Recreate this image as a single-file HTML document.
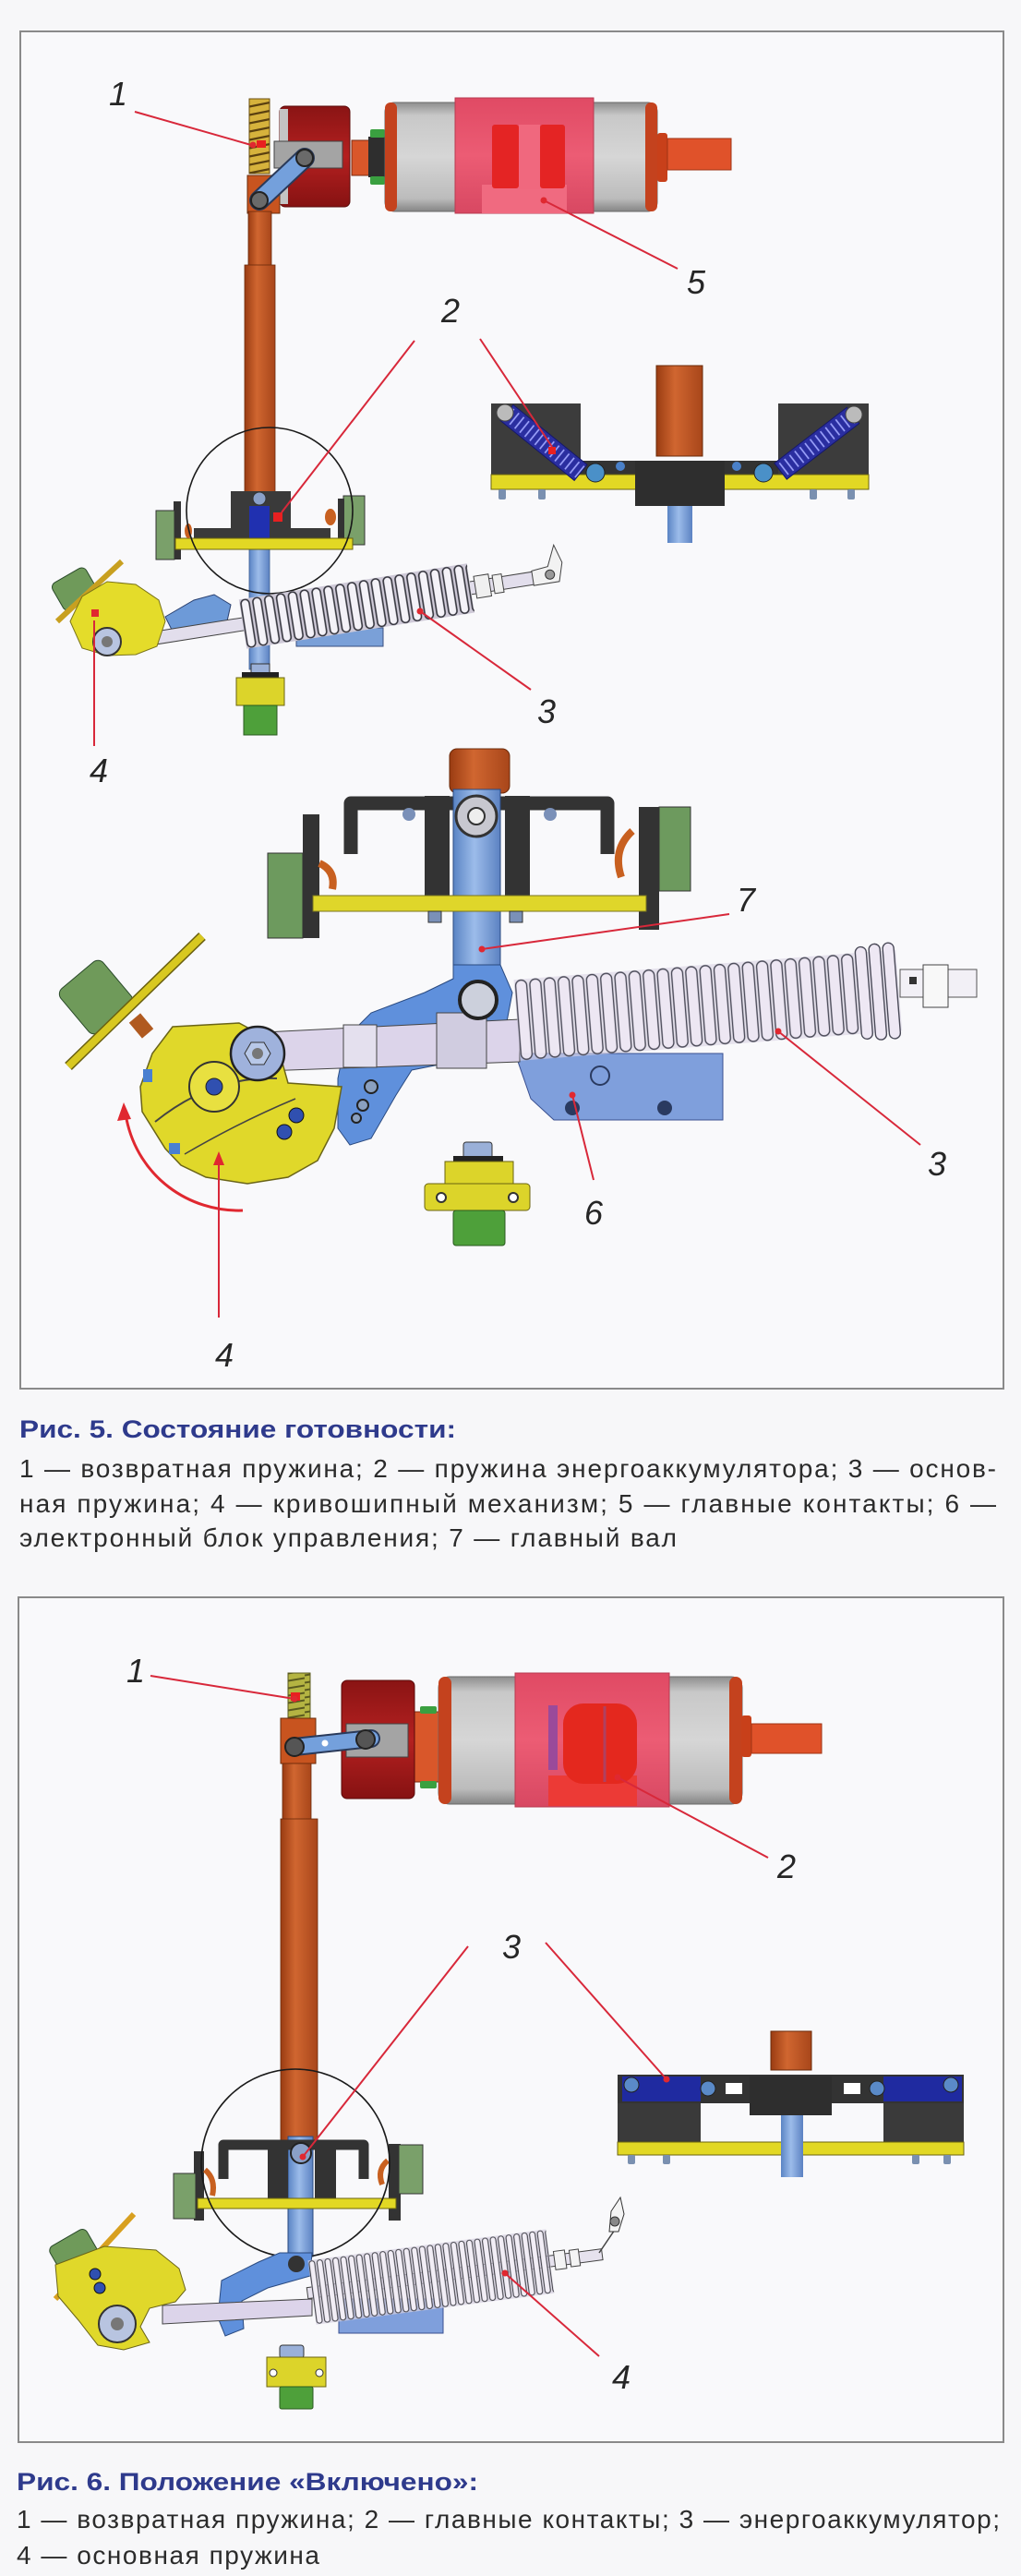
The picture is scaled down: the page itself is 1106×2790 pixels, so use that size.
<!DOCTYPE html>
<html><head><meta charset="utf-8"><style>
html,body{margin:0;padding:0;background:#f7f7f9;}
svg{display:block;}
.lb{font-family:"Liberation Sans","DejaVu Sans",sans-serif;font-style:italic;font-size:36px;fill:#262626;text-anchor:middle;}
.ti{font-family:"Liberation Sans","DejaVu Sans",sans-serif;font-weight:bold;font-size:27px;fill:#2e3a8c;}
.tx{font-family:"Liberation Sans","DejaVu Sans",sans-serif;font-size:28px;fill:#2b2b2b;}
.ld{stroke:#d8283a;stroke-width:2;fill:none;}
.mk{fill:#e02830;}
</style></head><body>
<svg width="1106" height="2790" viewBox="0 0 1106 2790" xmlns="http://www.w3.org/2000/svg">
<defs>
<linearGradient id="rodG" x1="0" x2="1" y1="0" y2="0"><stop offset="0" stop-color="#9a3c12"/><stop offset=".4" stop-color="#d06630"/><stop offset="1" stop-color="#a8461a"/></linearGradient>
<linearGradient id="cylG" x1="0" x2="0" y1="0" y2="1"><stop offset="0" stop-color="#8e8e8e"/><stop offset=".12" stop-color="#c8c8c8"/><stop offset=".5" stop-color="#d6d6d6"/><stop offset=".88" stop-color="#bcbcbc"/><stop offset="1" stop-color="#858585"/></linearGradient>
<linearGradient id="pinkG" x1="0" x2="0" y1="0" y2="1"><stop offset="0" stop-color="#e04a64"/><stop offset=".5" stop-color="#ec5c74"/><stop offset="1" stop-color="#d84862"/></linearGradient>
<linearGradient id="capG" x1="0" x2="0" y1="0" y2="1"><stop offset="0" stop-color="#8a1414"/><stop offset=".5" stop-color="#b42020"/><stop offset="1" stop-color="#861212"/></linearGradient>
<linearGradient id="shaftG" x1="0" x2="1" y1="0" y2="0"><stop offset="0" stop-color="#5a84c4"/><stop offset=".45" stop-color="#9cbcea"/><stop offset="1" stop-color="#5c82c2"/></linearGradient>
<pattern id="coilA" patternUnits="userSpaceOnUse" x="0" y="-27" width="13" height="54"><rect x="1.5" y="1" width="9" height="52" rx="4.5" fill="#f4f2f8" stroke="#33333c" stroke-width="1.6"/></pattern>
<pattern id="coilB" patternUnits="userSpaceOnUse" x="0" y="-44" width="15.4" height="88"><rect x="1.5" y="1" width="12" height="86" rx="6" fill="#eee8f4" fill-opacity=".92" stroke="#4a4a58" stroke-width="1.4"/></pattern>
<pattern id="coilC" patternUnits="userSpaceOnUse" x="0" y="-35" width="8.6" height="70"><rect x="1" y="1" width="6" height="68" rx="3" fill="#f2eef6" stroke="#44444c" stroke-width="1.1"/></pattern>
<pattern id="goldCoil" patternUnits="userSpaceOnUse" x="0" y="0" width="30" height="9"><rect x="0" y="0" width="30" height="9" fill="#d6b23c"/><path d="M0,7.5 L30,1.5" stroke="#5a4010" stroke-width="2.2"/></pattern>
<pattern id="oliveCoil" patternUnits="userSpaceOnUse" x="0" y="0" width="30" height="8"><rect x="0" y="0" width="30" height="8" fill="#b4b442"/><path d="M0,6.5 L30,1.5" stroke="#5a5a20" stroke-width="2"/></pattern>
<pattern id="navyCoil" patternUnits="userSpaceOnUse" x="0" y="-11" width="7" height="22"><rect x="0" y="0" width="7" height="22" fill="#2a2ea0"/><line x1="3.5" y1="3" x2="3.5" y2="19" stroke="#a0a6ff" stroke-width="1.6"/></pattern>
</defs>

<!-- ================= FIGURE 5 ================= -->
<rect x="22" y="34" width="1065" height="1470" fill="#f9f9fb" stroke="#8a8a8a" stroke-width="2"/>

<!-- interrupter -->
<rect x="381" y="152" width="20" height="38" fill="#d9572a" stroke="#7a2a10"/>
<rect x="399" y="148" width="20" height="44" fill="#2e2e2e"/>
<rect x="401" y="140" width="16" height="9" rx="2" fill="#3aa040"/>
<rect x="401" y="191" width="16" height="9" rx="2" fill="#3aa040"/>
<rect x="417" y="111" width="295" height="118" rx="10" fill="url(#cylG)" stroke="#6a6a6a"/>
<rect x="417" y="111" width="13" height="118" rx="6" fill="#c4421e"/>
<rect x="699" y="111" width="13" height="118" rx="6" fill="#c4421e"/>
<rect x="493" y="106" width="150" height="125" fill="url(#pinkG)" stroke="#b83a50"/>
<rect x="522" y="200" width="92" height="31" fill="#f06a80"/>
<rect x="562" y="135" width="23" height="70" fill="#f0687e"/>
<rect x="533" y="135" width="29" height="69" rx="3" fill="#e42424"/>
<rect x="585" y="135" width="27" height="69" rx="3" fill="#e42424"/>
<rect x="712" y="144" width="11" height="53" rx="3" fill="#c8401a"/>
<rect x="723" y="150" width="69" height="34" fill="#e0522a" stroke="#a03414"/>

<!-- cap, spring, link, rod -->
<rect x="303" y="115" width="76" height="109" rx="6" fill="url(#capG)" stroke="#5a0a0a"/>
<rect x="303" y="118" width="9" height="103" fill="#c4c4c4"/>
<rect x="297" y="153" width="74" height="29" fill="#a4a4a4" stroke="#444"/>
<rect x="270" y="107" width="22" height="81" fill="url(#goldCoil)" stroke="#6a5010"/>
<rect x="278" y="152" width="10" height="8" fill="#e82020"/>
<rect x="268" y="190" width="35" height="41" fill="#c8541f" stroke="#6a2a0a"/>
<line x1="281" y1="217" x2="330" y2="171" stroke="#2a3a5a" stroke-width="22" stroke-linecap="round"/>
<line x1="281" y1="217" x2="330" y2="171" stroke="#74a0dc" stroke-width="18" stroke-linecap="round"/>
<circle cx="330" cy="171" r="9" fill="#6a6a6a" stroke="#222" stroke-width="2"/>
<circle cx="281" cy="217" r="9" fill="#6a6a6a" stroke="#222" stroke-width="2"/>
<rect x="269" y="229" width="25" height="60" fill="url(#rodG)" stroke="#6a2a0a" stroke-width=".8"/>
<rect x="265" y="287" width="33" height="253" fill="url(#rodG)" stroke="#6a2a0a" stroke-width=".8"/>

<!-- circle mechanism -->
<rect x="270" y="590" width="22" height="135" fill="url(#shaftG)" stroke="#3a5a90" stroke-width=".8"/>
<rect x="188" y="543" width="8" height="63" fill="#333"/>
<rect x="169" y="553" width="20" height="53" fill="#7aa06a" stroke="#333"/>
<rect x="372" y="537" width="23" height="53" fill="#7aa06a" stroke="#333"/>
<rect x="366" y="540" width="7" height="52" fill="#333"/>
<path d="M210,583 L210,572 L250,572 L250,532 L315,532 L315,572 L358,572 L358,583 Z" fill="#3a3a3a"/>
<rect x="270" y="548" width="22" height="38" fill="#2030b0"/>
<circle cx="281" cy="540" r="7" fill="#8aa0c8" stroke="#333"/>
<rect x="296" y="555" width="10" height="10" fill="#e82020"/>
<rect x="190" y="583" width="192" height="12" fill="#e2d824" stroke="#6a6410"/>
<ellipse cx="358" cy="560" rx="6" ry="9" fill="#c86020"/>
<ellipse cx="204" cy="575" rx="4" ry="8" fill="#c86020"/>
<circle cx="292" cy="553" r="90" fill="none" stroke="#1a1a1a" stroke-width="1.6"/>

<!-- bottom component -->
<rect x="272" y="719" width="20" height="12" fill="#9ab0d8" stroke="#333"/>
<rect x="262" y="728" width="40" height="7" fill="#222"/>
<rect x="256" y="734" width="52" height="30" fill="#dcd42a" stroke="#6a6410"/>
<rect x="264" y="764" width="36" height="32" fill="#4ea03a" stroke="#2a5a20"/>

<!-- lever + spring -->
<polygon points="179,668 210,650 232,644 250,655 243,686 210,691 188,686" fill="#6d9ad8" stroke="#2a4070"/>
<rect x="321" y="680" width="94" height="20" fill="#7aa0d8" stroke="#3a5080"/>
<g transform="translate(263,676) rotate(-9)">
 <rect x="-118" y="-7" width="455" height="14" fill="#e2deec" stroke="#444"/>
 <rect x="0" y="-27" width="250" height="54" fill="#cfcad8"/>
 <rect x="0" y="-27" width="250" height="54" fill="url(#coilA)"/>
 <rect x="255" y="-12" width="16" height="24" fill="#f0f0f0" stroke="#444"/>
 <rect x="275" y="-10" width="10" height="20" fill="#f0f0f0" stroke="#444"/>
 <path d="M318,-8 L336,-10 L346,-32 L352,-12 L346,8 L318,8 Z" fill="#f2f2f2" stroke="#444"/>
 <circle cx="337" cy="-1" r="5" fill="#999" stroke="#333"/>
</g>

<!-- crank -->
<rect x="60" y="621" width="42" height="34" rx="6" fill="#6f9a5a" stroke="#2a4a2a" transform="rotate(-30 81 638)"/>
<line x1="132" y1="608" x2="62" y2="673" stroke="#c8a020" stroke-width="6"/>
<polygon points="76,673 89,646 116,630 147,633 172,650 179,673 170,700 147,709 116,710 89,702" fill="#e4dc2a" stroke="#7a7418"/>
<circle cx="116" cy="695" r="15" fill="#b8c4e0" stroke="#333" stroke-width="2"/>
<circle cx="116" cy="695" r="6" fill="#777"/>

<!-- right inset -->
<rect x="711" y="396" width="50" height="98" fill="url(#rodG)" stroke="#6a2a0a"/>
<rect x="532" y="437" width="97" height="82" fill="#3c3c3c"/>
<rect x="843" y="437" width="98" height="82" fill="#3c3c3c"/>
<rect x="629" y="499" width="214" height="16" fill="#333"/>
<rect x="532" y="514" width="409" height="16" fill="#e2d824" stroke="#6a6410"/>
<rect x="688" y="499" width="97" height="49" fill="#2e2e2e"/>
<rect x="540" y="530" width="8" height="11" rx="2" fill="#7a90b0"/>
<rect x="583" y="530" width="8" height="11" rx="2" fill="#7a90b0"/>
<rect x="877" y="530" width="8" height="11" rx="2" fill="#7a90b0"/>
<rect x="918" y="530" width="8" height="11" rx="2" fill="#7a90b0"/>
<rect x="723" y="548" width="27" height="40" fill="url(#shaftG)"/>
<g transform="translate(549,447) rotate(39)"><rect x="0" y="-11" width="103" height="22" fill="url(#navyCoil)" stroke="#15186a"/></g>
<g transform="translate(924,450) rotate(142.4)"><rect x="0" y="-11" width="99" height="22" fill="url(#navyCoil)" stroke="#15186a"/></g>
<circle cx="547" cy="447" r="9" fill="#bbb" stroke="#444"/>
<circle cx="925" cy="449" r="9" fill="#bbb" stroke="#444"/>
<rect x="594" y="484" width="8" height="8" fill="#e82020"/>
<circle cx="645" cy="512" r="10" fill="#4a90c8" stroke="#222"/>
<circle cx="827" cy="512" r="10" fill="#4a90c8" stroke="#222"/>
<circle cx="672" cy="505" r="5" fill="#4a80c8"/>
<circle cx="798" cy="505" r="5" fill="#4a80c8"/>

<!-- lower fig5 mechanism -->
<rect x="487" y="811" width="65" height="48" rx="8" fill="url(#rodG)" stroke="#6a2a0a"/>
<path d="M380,925 L380,870 L658,870 L658,925" fill="none" stroke="#333" stroke-width="15" stroke-linejoin="round"/>
<rect x="460" y="862" width="27" height="119" fill="#333"/>
<rect x="547" y="862" width="27" height="119" fill="#333"/>
<rect x="491" y="855" width="51" height="200" fill="url(#shaftG)" stroke="#2a4a80"/>
<circle cx="516" cy="884" r="22" fill="#c8c8d0" stroke="#333" stroke-width="3"/>
<circle cx="516" cy="884" r="9" fill="#eee" stroke="#333" stroke-width="2"/>
<circle cx="443" cy="882" r="7" fill="#7a90b8"/>
<circle cx="596" cy="882" r="7" fill="#7a90b8"/>
<rect x="328" y="882" width="18" height="134" fill="#333"/>
<rect x="290" y="924" width="38" height="92" fill="#6d9a5e" stroke="#333"/>
<rect x="692" y="874" width="22" height="133" fill="#333"/>
<rect x="714" y="874" width="34" height="91" fill="#6d9a5e" stroke="#333"/>
<path d="M346,935 q18,8 14,28" stroke="#c86020" stroke-width="8" fill="none"/>
<path d="M685,900 q-22,20 -12,50" stroke="#c86020" stroke-width="8" fill="none"/>
<rect x="339" y="970" width="361" height="17" fill="#dfd62a" stroke="#7a7420"/>
<rect x="464" y="987" width="14" height="12" fill="#7a90b8" stroke="#333"/>
<rect x="552" y="987" width="14" height="12" fill="#7a90b8" stroke="#333"/>

<!-- blue block 6 -->
<polygon points="558,1141 783,1141 783,1213 600,1213 575,1190" fill="#7f9fdc" stroke="#3a5090"/>
<circle cx="620" cy="1200" r="8" fill="#2a3a60"/>
<circle cx="720" cy="1200" r="8" fill="#2a3a60"/>
<circle cx="650" cy="1165" r="10" fill="none" stroke="#2a3a60" stroke-width="2"/>

<!-- lever -->
<polygon points="491,1045 542,1045 555,1075 548,1112 491,1150 446,1159 429,1186 402,1233 379,1240 366,1222 366,1168 375,1124 402,1097 460,1075 491,1060" fill="#5f90dc" stroke="#2a4a80"/>
<circle cx="402" cy="1177" r="7" fill="#8aa0c0" stroke="#222" stroke-width="2"/>
<circle cx="393" cy="1197" r="6" fill="#8aa0c0" stroke="#222" stroke-width="2"/>
<circle cx="386" cy="1211" r="5" fill="#8aa0c0" stroke="#222" stroke-width="2"/>

<!-- rod -->
<polygon points="286,1118 563,1104 563,1150 286,1160" fill="#dcd4ea" stroke="#444"/>
<rect x="372" y="1110" width="36" height="46" fill="#e4e0ee" stroke="#444"/>
<rect x="473" y="1097" width="54" height="60" fill="#d0cce0" stroke="#444"/>
<circle cx="518" cy="1083" r="20" fill="#ccd0dc" stroke="#222" stroke-width="4"/>

<!-- big spring -->
<g transform="translate(560,1105) rotate(-4.5)">
 <rect x="0" y="-44" width="415" height="88" fill="#d8d2e4" fill-opacity=".6"/>
 <rect x="0" y="-44" width="370" height="88" fill="url(#coilB)"/>
 <rect x="371" y="-50" width="12" height="100" rx="6" fill="#eee8f4" stroke="#4a4a58" stroke-width="1.4"/>
 <rect x="386" y="-52" width="12" height="104" rx="6" fill="#eee8f4" stroke="#4a4a58" stroke-width="1.4"/>
 <rect x="401" y="-52" width="12" height="104" rx="6" fill="#eee8f4" stroke="#4a4a58" stroke-width="1.4"/>
</g>
<rect x="975" y="1050" width="83" height="30" fill="#f2f0f6" stroke="#555"/>
<rect x="1000" y="1045" width="27" height="46" fill="#f8f8f8" stroke="#444"/>
<rect x="985" y="1058" width="8" height="8" fill="#333"/>

<!-- crank -->
<rect x="74" y="1049" width="60" height="62" rx="8" fill="#6f9a5a" stroke="#2a4a2a" transform="rotate(-40 104 1080)"/>
<line x1="219" y1="1014" x2="74" y2="1155" stroke="#6a6010" stroke-width="11"/>
<line x1="219" y1="1014" x2="74" y2="1155" stroke="#d8c820" stroke-width="8"/>
<rect x="145" y="1100" width="16" height="22" fill="#b05a20" transform="rotate(-40 153 1111)"/>
<polygon points="187,1112 259,1108 300,1130 312,1173 370,1177 362,1222 344,1257 312,1275 268,1282 223,1275 196,1262 179,1244 154,1204 152,1177 165,1141" fill="#e0d82a" stroke="#6a6418" stroke-width="1.5"/>
<path d="M168,1215 Q230,1165 300,1168" stroke="#444" stroke-width="2" fill="none"/>
<path d="M200,1250 Q260,1215 320,1190" stroke="#444" stroke-width="1.5" fill="none"/>
<circle cx="232" cy="1177" r="27" fill="#e8e040" stroke="#333" stroke-width="2"/>
<circle cx="232" cy="1177" r="9" fill="#3050b0" stroke="#222"/>
<circle cx="321" cy="1208" r="8" fill="#3050b0" stroke="#111"/>
<circle cx="308" cy="1226" r="8" fill="#3050b0" stroke="#111"/>
<rect x="155" y="1158" width="10" height="14" fill="#4a80d0"/>
<rect x="183" y="1238" width="12" height="12" fill="#4a80d0"/>
<circle cx="279" cy="1141" r="29" fill="#9fb2dc" stroke="#222" stroke-width="2.5"/>
<polygon points="293,1141 286,1153 272,1153 265,1141 272,1129 286,1129" fill="#b8c8e8" stroke="#333"/>
<circle cx="279" cy="1141" r="6" fill="#777"/>

<!-- bottom component -->
<rect x="502" y="1237" width="31" height="18" rx="3" fill="#9ab0d8" stroke="#333"/>
<rect x="491" y="1252" width="54" height="8" fill="#222"/>
<rect x="482" y="1258" width="74" height="26" fill="#dcd42a" stroke="#6a6410"/>
<rect x="460" y="1282" width="114" height="29" rx="4" fill="#dcd42a" stroke="#6a6410"/>
<circle cx="478" cy="1297" r="5" fill="#fff" stroke="#333" stroke-width="2"/>
<circle cx="556" cy="1297" r="5" fill="#fff" stroke="#333" stroke-width="2"/>
<rect x="491" y="1311" width="56" height="38" rx="3" fill="#4ea03a" stroke="#2a5a20"/>

<!-- red arc arrow -->
<path d="M263,1311 C205,1313 150,1275 137,1212" stroke="#e02830" stroke-width="3" fill="none"/>
<polygon points="134,1194 127,1214 142,1212" fill="#e02830"/>

<!-- leaders fig5 -->
<line class="ld" x1="146" y1="121" x2="272" y2="157"/><circle class="mk" cx="274" cy="157" r="3.5"/>
<line class="ld" x1="734" y1="291" x2="589" y2="217"/><circle class="mk" cx="589" cy="217" r="3.5"/>
<line class="ld" x1="449" y1="369" x2="305" y2="555"/>
<line class="ld" x1="520" y1="367" x2="598" y2="484"/>
<line class="ld" x1="575" y1="747" x2="455" y2="662"/><circle class="mk" cx="455" cy="662" r="3.5"/>
<line class="ld" x1="102" y1="808" x2="102" y2="672"/><rect class="mk" x="99" y="660" width="8" height="8"/>
<line class="ld" x1="790" y1="990" x2="522" y2="1028"/><circle class="mk" cx="522" cy="1028" r="3.5"/>
<line class="ld" x1="643" y1="1278" x2="620" y2="1186"/><circle class="mk" cx="620" cy="1186" r="3.5"/>
<line class="ld" x1="997" y1="1240" x2="843" y2="1117"/><circle class="mk" cx="843" cy="1117" r="3.5"/>
<line class="ld" x1="237" y1="1427" x2="237" y2="1258"/>
<polygon points="237,1247 231,1262 243,1262" fill="#e02830"/>

<!-- labels fig5 -->
<text class="lb" x="128" y="114">1</text>
<text class="lb" x="754" y="318">5</text>
<text class="lb" x="488" y="349">2</text>
<text class="lb" x="592" y="783">3</text>
<text class="lb" x="107" y="847">4</text>
<text class="lb" x="808" y="987">7</text>
<text class="lb" x="643" y="1326">6</text>
<text class="lb" x="1015" y="1273">3</text>
<text class="lb" x="243" y="1480">4</text>

<!-- caption 5 -->
<text class="ti" x="21" y="1557" textLength="473" lengthAdjust="spacingAndGlyphs">Рис. 5. Состояние готовности:</text>
<text class="tx" x="21" y="1600" textLength="1058" lengthAdjust="spacing">1 — возвратная пружина; 2 — пружина энергоаккумулятора; 3 — основ-</text>
<text class="tx" x="21" y="1638" textLength="1058" lengthAdjust="spacing">ная пружина; 4 — кривошипный механизм; 5 — главные контакты; 6 —</text>
<text class="tx" x="21" y="1675" textLength="712" lengthAdjust="spacing">электронный блок управления; 7 — главный вал</text>

<!-- ================= FIGURE 6 ================= -->
<rect x="20" y="1730" width="1067" height="915" fill="#f9f9fb" stroke="#8a8a8a" stroke-width="2"/>

<!-- interrupter -->
<rect x="449" y="1854" width="29" height="76" fill="#d9572a" stroke="#7a2a10"/>
<rect x="455" y="1848" width="18" height="8" rx="2" fill="#3aa040"/>
<rect x="455" y="1929" width="18" height="8" rx="2" fill="#3aa040"/>
<rect x="475" y="1816" width="329" height="138" rx="12" fill="url(#cylG)" stroke="#6a6a6a"/>
<rect x="475" y="1816" width="14" height="138" rx="7" fill="#c4421e"/>
<rect x="790" y="1816" width="14" height="138" rx="7" fill="#c4421e"/>
<rect x="558" y="1812" width="167" height="145" fill="url(#pinkG)" stroke="#b83a50"/>
<rect x="594" y="1923" width="96" height="33" fill="#ec3a36"/>
<rect x="594" y="1847" width="10" height="70" fill="#9a4a9a"/>
<rect x="610" y="1845" width="80" height="87" rx="22" fill="#e4281e"/>
<line x1="655" y1="1848" x2="655" y2="1930" stroke="#b04060" stroke-width="3"/>
<rect x="803" y="1858" width="11" height="45" rx="3" fill="#c8401a"/>
<rect x="814" y="1867" width="76" height="32" fill="#e0522a" stroke="#a03414"/>

<rect x="370" y="1820" width="79" height="128" rx="6" fill="url(#capG)" stroke="#5a0a0a"/>
<rect x="375" y="1867" width="67" height="36" fill="#a4a4a4" stroke="#444"/>
<rect x="312" y="1812" width="24" height="51" fill="url(#oliveCoil)" stroke="#5a5a20"/>
<rect x="315" y="1833" width="10" height="9" fill="#e82020"/>
<rect x="304" y="1861" width="38" height="49" fill="#c8541f" stroke="#6a2a0a"/>
<line x1="319" y1="1892" x2="402" y2="1883" stroke="#2a3a5a" stroke-width="20" stroke-linecap="round"/>
<line x1="319" y1="1892" x2="402" y2="1883" stroke="#74a0dc" stroke-width="16" stroke-linecap="round"/>
<circle cx="319" cy="1892" r="10" fill="#555" stroke="#222" stroke-width="2"/>
<circle cx="396" cy="1884" r="10" fill="#555" stroke="#222" stroke-width="2"/>
<circle cx="352" cy="1888" r="3.5" fill="#fff"/>
<rect x="306" y="1910" width="31" height="62" fill="url(#rodG)" stroke="#6a2a0a" stroke-width=".8"/>
<rect x="304" y="1970" width="40" height="348" fill="url(#rodG)" stroke="#6a2a0a" stroke-width=".8"/>

<!-- circle mechanism -->
<rect x="312" y="2314" width="27" height="130" fill="url(#shaftG)" stroke="#2a4a80"/>
<rect x="210" y="2330" width="11" height="75" fill="#333"/>
<rect x="188" y="2354" width="24" height="49" fill="#7aa06a" stroke="#333"/>
<rect x="421" y="2322" width="13" height="83" fill="#333"/>
<rect x="432" y="2323" width="26" height="53" fill="#7aa06a" stroke="#333"/>
<path d="M242,2360 L242,2323 L394,2323 L394,2360" fill="none" stroke="#333" stroke-width="11" stroke-linejoin="round"/>
<rect x="290" y="2318" width="22" height="63" fill="#333"/>
<rect x="341" y="2318" width="23" height="63" fill="#333"/>
<circle cx="326" cy="2332" r="11" fill="#8aa0c8" stroke="#222" stroke-width="2"/>
<rect x="214" y="2381" width="215" height="11" fill="#e2d824" stroke="#6a6410"/>
<path d="M222,2350 q12,10 8,28" stroke="#c86020" stroke-width="6" fill="none"/>
<path d="M420,2340 q-12,10 -6,26" stroke="#c86020" stroke-width="6" fill="none"/>
<circle cx="320" cy="2343" r="102" fill="none" stroke="#1a1a1a" stroke-width="1.6"/>

<!-- lower fig6 -->
<polygon points="303,2440 338,2440 336,2465 290,2478 262,2492 264,2522 244,2530 236,2510 240,2470 280,2450" fill="#5f90dc" stroke="#2a4a80"/>
<circle cx="321" cy="2452" r="9" fill="#333"/>
<polygon points="176,2497 338,2490 338,2508 176,2517" fill="#dcd4ea" stroke="#444"/>
<rect x="367" y="2490" width="113" height="37" fill="#7f9fdc" stroke="#3a5090"/>
<g transform="translate(338,2483) rotate(-7.5)">
 <rect x="-5" y="-6" width="322" height="12" fill="#e6e2ee" stroke="#444"/>
 <rect x="0" y="-35" width="260" height="70" fill="#d6d0e0" fill-opacity=".7"/>
 <rect x="0" y="-35" width="260" height="70" fill="url(#coilC)"/>
 <rect x="265" y="-10" width="12" height="20" fill="#f4f4f4" stroke="#444"/>
 <rect x="282" y="-9" width="10" height="18" fill="#f4f4f4" stroke="#444"/>
</g>
<line x1="649" y1="2440" x2="668" y2="2412" stroke="#444" stroke-width="1.5"/>
<path d="M660,2417 L662,2395 L672,2380 L676,2398 L670,2417 Z" fill="#f4f4f4" stroke="#333"/>
<circle cx="666" cy="2406" r="5" fill="#888" stroke="#333"/>

<rect x="59" y="2421" width="46" height="42" rx="6" fill="#6f9a5a" stroke="#2a4a2a" transform="rotate(-30 82 2442)"/>
<line x1="145" y1="2398" x2="60" y2="2490" stroke="#d8a020" stroke-width="6"/>
<polygon points="60,2453 113,2433 169,2437 194,2457 201,2480 190,2493 162,2500 152,2520 162,2537 134,2545 106,2540 85,2513 63,2487" fill="#e0d82a" stroke="#6a6418"/>
<circle cx="103" cy="2463" r="6" fill="#3050b0" stroke="#111"/>
<circle cx="108" cy="2478" r="6" fill="#3050b0" stroke="#111"/>
<circle cx="127" cy="2517" r="20" fill="#b8c4e0" stroke="#333" stroke-width="2"/>
<circle cx="127" cy="2517" r="7" fill="#777"/>

<rect x="303" y="2540" width="26" height="14" rx="3" fill="#9ab0d8" stroke="#333"/>
<rect x="289" y="2553" width="64" height="32" fill="#dcd42a" stroke="#6a6410"/>
<circle cx="296" cy="2570" r="4" fill="#fff" stroke="#333"/>
<circle cx="346" cy="2570" r="4" fill="#fff" stroke="#333"/>
<rect x="303" y="2585" width="36" height="24" rx="2" fill="#4ea03a" stroke="#2a5a20"/>

<!-- right inset fig6 -->
<rect x="835" y="2200" width="44" height="42" fill="url(#rodG)" stroke="#6a2a0a"/>
<rect x="669" y="2278" width="90" height="44" fill="#3a3a3a"/>
<rect x="957" y="2278" width="87" height="44" fill="#3a3a3a"/>
<rect x="669" y="2320" width="375" height="14" fill="#e2d824" stroke="#6a6410"/>
<rect x="846" y="2288" width="24" height="70" fill="url(#shaftG)"/>
<rect x="669" y="2247" width="375" height="31" fill="#333"/>
<rect x="674" y="2249" width="85" height="27" fill="#1f2aa0"/>
<rect x="957" y="2249" width="85" height="27" fill="#1f2aa0"/>
<rect x="812" y="2249" width="89" height="42" fill="#2e2e2e"/>
<rect x="786" y="2256" width="18" height="12" fill="#fff"/>
<rect x="914" y="2256" width="18" height="12" fill="#fff"/>
<circle cx="684" cy="2258" r="8" fill="#5a8ac8" stroke="#222"/>
<circle cx="767" cy="2262" r="8" fill="#5a8ac8" stroke="#222"/>
<circle cx="950" cy="2262" r="8" fill="#5a8ac8" stroke="#222"/>
<circle cx="1030" cy="2258" r="8" fill="#5a8ac8" stroke="#222"/>
<rect x="680" y="2334" width="8" height="10" rx="2" fill="#7a90b0"/>
<rect x="718" y="2334" width="8" height="10" rx="2" fill="#7a90b0"/>
<rect x="988" y="2334" width="8" height="10" rx="2" fill="#7a90b0"/>
<rect x="1022" y="2334" width="8" height="10" rx="2" fill="#7a90b0"/>

<!-- leaders fig6 -->
<line class="ld" x1="163" y1="1815" x2="319" y2="1840"/><circle class="mk" cx="319" cy="1840" r="3.5"/>
<line class="ld" x1="832" y1="2012" x2="669" y2="1925"/><circle class="mk" cx="669" cy="1925" r="3.5"/>
<line class="ld" x1="507" y1="2108" x2="328" y2="2336"/><circle class="mk" cx="328" cy="2336" r="3.5"/>
<line class="ld" x1="591" y1="2104" x2="722" y2="2252"/><circle class="mk" cx="722" cy="2252" r="3.5"/>
<line class="ld" x1="649" y1="2552" x2="547" y2="2462"/><circle class="mk" cx="547" cy="2462" r="3.5"/>

<text class="lb" x="147" y="1822">1</text>
<text class="lb" x="852" y="2034">2</text>
<text class="lb" x="554" y="2121">3</text>
<text class="lb" x="673" y="2587">4</text>

<!-- caption 6 -->
<text class="ti" x="18" y="2697" textLength="500" lengthAdjust="spacingAndGlyphs">Рис. 6. Положение «Включено»:</text>
<text class="tx" x="18" y="2738" textLength="1065" lengthAdjust="spacing">1 — возвратная пружина; 2 — главные контакты; 3 — энергоаккумулятор;</text>
<text class="tx" x="18" y="2777" textLength="328" lengthAdjust="spacing">4 — основная пружина</text>
</svg>
</body></html>
